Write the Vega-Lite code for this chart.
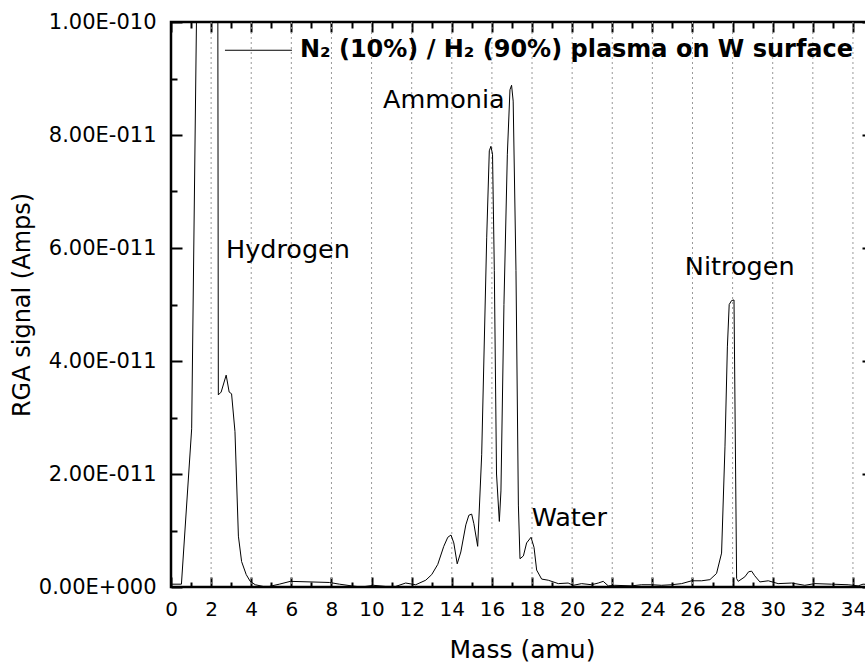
{
  "$schema": "https://vega.github.io/schema/vega-lite/v6.json",
  "width": 702,
  "height": 565,
  "autosize": {"type": "none"},
  "padding": {"left": 171, "top": 22, "right": 0, "bottom": 79},
  "background": "white",
  "view": {"stroke": "black", "strokeWidth": 2.5},
  "config": {
    "font": "DejaVu Sans",
    "axis": {"tickColor": "black", "labelColor": "black", "titleColor": "black", "domain": false, "grid": false, "tickWidth": 2, "titleFontWeight": "normal", "labelFont": "DejaVu Sans", "titleFont": "DejaVu Sans"}
  },
  "datasets": {
    "rga": [
      {"mass": 0.0, "signal": 5e-13}, {"mass": 0.52, "signal": 5e-13}, {"mass": 1.03, "signal": 2.8e-11},
      {"mass": 1.6, "signal": 2.0e-10}, {"mass": 2.0, "signal": 2.2e-10}, {"mass": 2.3, "signal": 2.0e-10},
      {"mass": 2.36, "signal": 3.4e-11}, {"mass": 2.5, "signal": 3.45e-11}, {"mass": 2.75, "signal": 3.75e-11},
      {"mass": 2.9, "signal": 3.45e-11}, {"mass": 3.02, "signal": 3.42e-11}, {"mass": 3.19, "signal": 2.75e-11},
      {"mass": 3.36, "signal": 9e-12}, {"mass": 3.52, "signal": 4.5e-12}, {"mass": 3.75, "signal": 2.2e-12},
      {"mass": 3.95, "signal": 1e-12}, {"mass": 4.2, "signal": 4e-13}, {"mass": 4.6, "signal": 1e-13},
      {"mass": 4.9, "signal": 1e-13}, {"mass": 5.4, "signal": 5e-13}, {"mass": 5.95, "signal": 1e-12},
      {"mass": 7.9, "signal": 8e-13}, {"mass": 8.4, "signal": 5e-13}, {"mass": 9.0, "signal": 2e-13},
      {"mass": 9.5, "signal": 0}, {"mass": 10.1, "signal": 3e-13}, {"mass": 10.7, "signal": 1e-13},
      {"mass": 11.2, "signal": 1e-13}, {"mass": 11.7, "signal": 7e-13}, {"mass": 12.2, "signal": 4e-13},
      {"mass": 12.7, "signal": 1.2e-12}, {"mass": 13.0, "signal": 2.2e-12}, {"mass": 13.3, "signal": 4e-12},
      {"mass": 13.6, "signal": 7.2e-12}, {"mass": 13.8, "signal": 8.8e-12}, {"mass": 13.96, "signal": 9.2e-12},
      {"mass": 14.1, "signal": 7.8e-12}, {"mass": 14.27, "signal": 4.1e-12}, {"mass": 14.45, "signal": 6.2e-12},
      {"mass": 14.7, "signal": 1.1e-11}, {"mass": 14.85, "signal": 1.27e-11}, {"mass": 14.99, "signal": 1.29e-11},
      {"mass": 15.1, "signal": 1.12e-11}, {"mass": 15.29, "signal": 7.2e-12}, {"mass": 15.49, "signal": 2.34e-11},
      {"mass": 15.74, "signal": 6.18e-11}, {"mass": 15.87, "signal": 7.72e-11}, {"mass": 15.95, "signal": 7.8e-11},
      {"mass": 16.03, "signal": 7.66e-11}, {"mass": 16.12, "signal": 5.6e-11}, {"mass": 16.23, "signal": 2.0e-11},
      {"mass": 16.37, "signal": 1.16e-11}, {"mass": 16.45, "signal": 1.7e-11}, {"mass": 16.6, "signal": 5.0e-11},
      {"mass": 16.77, "signal": 7.66e-11}, {"mass": 16.9, "signal": 8.8e-11}, {"mass": 16.98, "signal": 8.88e-11},
      {"mass": 17.06, "signal": 8.6e-11}, {"mass": 17.2, "signal": 5.6e-11}, {"mass": 17.32, "signal": 1.45e-11},
      {"mass": 17.4, "signal": 5e-12}, {"mass": 17.57, "signal": 5.5e-12}, {"mass": 17.73, "signal": 7.8e-12},
      {"mass": 17.95, "signal": 8.8e-12}, {"mass": 18.1, "signal": 7e-12}, {"mass": 18.23, "signal": 3e-12},
      {"mass": 18.48, "signal": 1.4e-12}, {"mass": 18.81, "signal": 1.2e-12}, {"mass": 19.31, "signal": 6e-13},
      {"mass": 19.8, "signal": 7e-13}, {"mass": 20.06, "signal": 3e-13}, {"mass": 20.47, "signal": 6e-13},
      {"mass": 20.97, "signal": 4e-13}, {"mass": 21.3, "signal": 7e-13}, {"mass": 21.55, "signal": 1e-12},
      {"mass": 21.8, "signal": 2e-13}, {"mass": 22.13, "signal": 3e-13}, {"mass": 22.97, "signal": 2e-13},
      {"mass": 23.46, "signal": 4e-13}, {"mass": 23.96, "signal": 4e-13}, {"mass": 24.46, "signal": 3e-13},
      {"mass": 24.96, "signal": 4e-13}, {"mass": 25.46, "signal": 6e-13}, {"mass": 25.96, "signal": 1.1e-12},
      {"mass": 26.46, "signal": 1.1e-12}, {"mass": 26.87, "signal": 1.3e-12}, {"mass": 27.2, "signal": 2.4e-12},
      {"mass": 27.45, "signal": 6e-12}, {"mass": 27.62, "signal": 2.48e-11}, {"mass": 27.74, "signal": 4.25e-11},
      {"mass": 27.83, "signal": 5.0e-11}, {"mass": 27.95, "signal": 5.07e-11}, {"mass": 28.07, "signal": 5.08e-11},
      {"mass": 28.2, "signal": 1.5e-12}, {"mass": 28.28, "signal": 1e-12}, {"mass": 28.61, "signal": 1.8e-12},
      {"mass": 28.8, "signal": 2.7e-12}, {"mass": 28.95, "signal": 2.8e-12}, {"mass": 29.1, "signal": 2e-12},
      {"mass": 29.36, "signal": 9e-13}, {"mass": 29.78, "signal": 1.1e-12}, {"mass": 30.27, "signal": 6e-13},
      {"mass": 30.94, "signal": 7e-13}, {"mass": 31.6, "signal": 3e-13}, {"mass": 32.1, "signal": 6e-13},
      {"mass": 32.94, "signal": 5e-13}, {"mass": 33.76, "signal": 4e-13}, {"mass": 34.26, "signal": 2e-13},
      {"mass": 34.5, "signal": 5e-13}, {"mass": 35.0, "signal": 4e-13}
    ],
    "grid": [
      {"mass": 2}, {"mass": 4}, {"mass": 6}, {"mass": 8}, {"mass": 10}, {"mass": 12}, {"mass": 14}, {"mass": 16}, {"mass": 18},
      {"mass": 20}, {"mass": 22}, {"mass": 24}, {"mass": 26}, {"mass": 28}, {"mass": 30}, {"mass": 32}, {"mass": 34}
    ],
    "notes": [
      {"mass": 2.74, "signal": 5.96e-11, "label": "Hydrogen"},
      {"mass": 10.57, "signal": 8.62e-11, "label": "Ammonia"},
      {"mass": 17.98, "signal": 1.22e-11, "label": "Water"},
      {"mass": 25.62, "signal": 5.66e-11, "label": "Nitrogen"}
    ],
    "legendline": [{"x1": 2.69, "x2": 6.03, "y": 9.5e-11}],
    "legendtext": [{"mass": 6.43, "signal": 9.5e-11, "label": "N₂ (10%) / H₂ (90%) plasma on W surface"}]
  },
  "layer": [
    {
      "data": {"name": "grid"},
      "mark": {"type": "rule", "color": "#999999", "strokeWidth": 1, "strokeDash": [2, 3]},
      "encoding": {
        "x": {"field": "mass", "type": "quantitative", "axis": null}
      }
    },
    {
      "data": {"name": "rga"},
      "mark": {"type": "line", "color": "black", "strokeWidth": 1, "clip": true},
      "encoding": {
        "x": {"field": "mass", "type": "quantitative", "scale": {"domain": [0, 35], "nice": false, "zero": false},
          "axis": {"orient": "bottom", "values": [0,2,4,6,8,10,12,14,16,18,20,22,24,26,28,30,32,34], "tickSize": -10, "labelPadding": 22, "labelFontSize": 20, "labelFlush": false, "grid": false, "title": "Mass (amu)", "titleFontSize": 25, "titlePadding": 18}},
        "y": {"field": "signal", "type": "quantitative", "scale": {"domain": [0, 1e-10], "nice": false, "zero": true},
          "axis": {"orient": "left", "values": [0, 2e-11, 4e-11, 6e-11, 8e-11, 1e-10], "tickSize": -11, "labelPadding": 26, "labelFontSize": 21, "labelFlush": false, "grid": false,
            "labelExpr": "datum.value == 0 ? '0.00E+000' : (datum.value > 9.9e-11 ? '1.00E-010' : format(datum.value * 1e11, '.2f') + 'E-011')",
            "title": "RGA signal (Amps)", "titleFontSize": 24, "titlePadding": 4}}
      }
    },
    {
      "data": {"name": "rga"},
      "mark": {"type": "line", "opacity": 0},
      "encoding": {
        "x": {"field": "mass", "type": "quantitative", "axis": {"orient": "bottom", "values": [1,3,5,7,9,11,13,15,17,19,21,23,25,27,29,31,33,35], "tickSize": -5, "labels": false, "grid": false, "title": null}},
        "y": {"field": "signal", "type": "quantitative", "axis": {"orient": "left", "values": [1e-11, 3e-11, 5e-11, 7e-11, 9e-11], "tickSize": -6, "labels": false, "grid": false, "title": null}}
      }
    },
    {
      "data": {"name": "rga"},
      "mark": {"type": "line", "opacity": 0},
      "encoding": {
        "x": {"field": "mass", "type": "quantitative", "axis": {"orient": "top", "values": [0,2,4,6,8,10,12,14,16,18,20,22,24,26,28,30,32,34], "tickSize": -10, "labels": false, "grid": false, "title": null}},
        "y": {"field": "signal", "type": "quantitative", "axis": {"orient": "right", "values": [0, 2e-11, 4e-11, 6e-11, 8e-11, 1e-10], "tickSize": -11, "labels": false, "grid": false, "title": null}}
      }
    },
    {
      "data": {"name": "rga"},
      "mark": {"type": "line", "opacity": 0},
      "encoding": {
        "x": {"field": "mass", "type": "quantitative", "axis": {"orient": "top", "values": [1,3,5,7,9,11,13,15,17,19,21,23,25,27,29,31,33,35], "tickSize": -6, "labels": false, "grid": false, "title": null}},
        "y": {"field": "signal", "type": "quantitative", "axis": {"orient": "right", "values": [1e-11, 3e-11, 5e-11, 7e-11, 9e-11], "tickSize": -6, "labels": false, "grid": false, "title": null}}
      }
    },
    {
      "data": {"name": "legendline"},
      "mark": {"type": "rule", "color": "black", "strokeWidth": 1},
      "encoding": {
        "x": {"field": "x1", "type": "quantitative", "axis": null},
        "x2": {"field": "x2"},
        "y": {"field": "y", "type": "quantitative", "axis": null}
      }
    },
    {
      "data": {"name": "notes"},
      "mark": {"type": "text", "align": "left", "baseline": "middle", "fontSize": 25.5, "color": "black", "font": "DejaVu Sans"},
      "encoding": {
        "x": {"field": "mass", "type": "quantitative", "axis": null},
        "y": {"field": "signal", "type": "quantitative", "axis": null},
        "text": {"field": "label"}
      }
    },
    {
      "data": {"name": "legendtext"},
      "mark": {"type": "text", "align": "left", "baseline": "middle", "fontSize": 24, "fontWeight": "bold", "color": "black", "font": "DejaVu Sans"},
      "encoding": {
        "x": {"field": "mass", "type": "quantitative", "axis": null},
        "y": {"field": "signal", "type": "quantitative", "axis": null},
        "text": {"field": "label"}
      }
    }
  ],
  "resolve": {"axis": {"x": "independent", "y": "independent"}}
}
